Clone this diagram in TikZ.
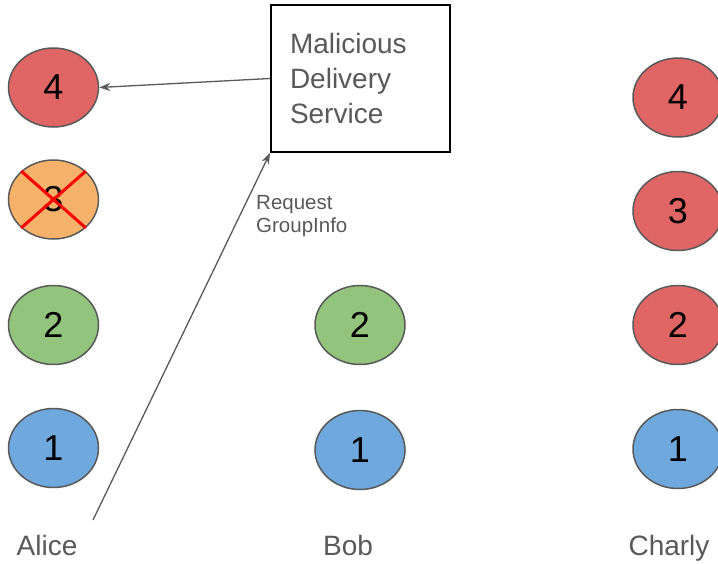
\documentclass[tikz,border=0pt]{standalone}
\usepackage{fontspec}
\setmainfont{Liberation Sans}
\usetikzlibrary{shapes.geometric,arrows.meta}
\definecolor{cred}{HTML}{E06666}
\definecolor{cgreen}{HTML}{93C47D}
\definecolor{cblue}{HTML}{6FA8DC}
\definecolor{corange}{HTML}{F6B26B}
\definecolor{cgray}{HTML}{595959}
\begin{document}
\begin{tikzpicture}[x=1pt,y=-1pt,
  ver/.style={ellipse,draw=cgray,line width=1.5pt,minimum width=90pt,minimum height=79pt,inner sep=0pt,font=\fontsize{36}{40}\selectfont,text=black},
  vred/.style={ver,fill=cred},
  vgreen/.style={ver,fill=cgreen},
  vblue/.style={ver,fill=cblue},
  vorange/.style={ver,fill=corange},
  who/.style={anchor=base,text=cgray,font=\fontsize{28}{32}\selectfont,inner sep=0pt},
  conn/.style={draw=cgray,line width=1.3pt,-{Stealth[length=11pt,width=8pt]}},
  cross/.style={draw=red,line width=3pt}]
\useasboundingbox (0,0) rectangle (718,563);
% Alice
\node[vred] (a4) at (53.5,87.5) {4};
\node[vorange] (a3) at (53.5,199.5) {3};
\node[vgreen] (a2) at (53.5,325) {2};
\node[vblue] (a1) at (53.5,448) {1};
\draw[cross] (a3.north west) -- (a3.south east);
\draw[cross] (a3.north east) -- (a3.south west);
% Bob
\node[vgreen] (b2) at (360,325) {2};
\node[vblue] (b1) at (360,450) {1};
% Charly
\node[vred] (c4) at (678,97.5) {4};
\node[vred] (c3) at (678,211) {3};
\node[vred] (c2) at (678,325) {2};
\node[vblue] (c1) at (678,449) {1};
% names
\node[who] (na) at (47,555) {Alice};
\node[who] (nb) at (348,555) {Bob};
\node[who] (nc) at (669,555) {Charly};
% box
\node[draw=black,line width=2pt,minimum width=179pt,minimum height=147pt,
  inner xsep=19pt,text width=141pt,align=left,text=cgray,
  font=\fontsize{28}{35}\selectfont] (mds) at (360.5,78.5) {Malicious\\Delivery\\Service};
% arrows
\draw[conn] (mds.west) -- (a4.east);
\coordinate (start) at (93,520);
\draw[conn] (start) -- (mds.south west);
\node[anchor=west,align=left,text=cgray,inner sep=0pt,
  font=\fontsize{20.5}{23}\selectfont] (lbl) at (256,216) {Request\\GroupInfo};
\end{tikzpicture}
\end{document}
